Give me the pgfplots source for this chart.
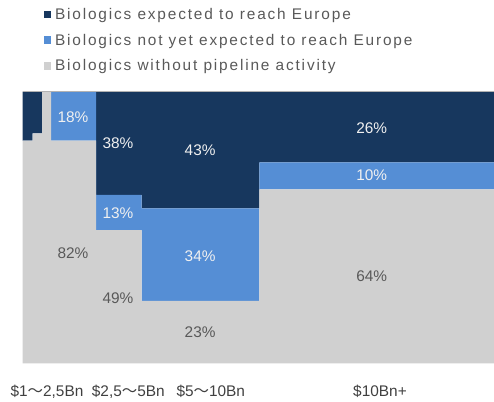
\documentclass[border=0pt]{standalone}
\usepackage{pgfplots}
\pgfplotsset{compat=1.18}
\usepackage{fontspec}
\setmainfont{Liberation Sans}
\newfontfamily\legfont{Liberation Sans}[LetterSpace=12]
\newfontfamily\cjk{Noto Sans CJK KR}
\definecolor{navy}{HTML}{17375E}
\definecolor{midblue}{HTML}{558ED5}
\definecolor{lgray}{HTML}{D0D0D0}
\definecolor{txtgray}{HTML}{595959}
\definecolor{tickgray}{HTML}{404040}
\definecolor{lbl}{HTML}{F0F0F0}
\newcommand{\wt}{{\cjk ～}}
\tikzset{
  lblw/.style={text=lbl, inner sep=0pt, text height=10.7pt, text depth=0pt, anchor=center},
  lblg/.style={text=txtgray, inner sep=0pt, text height=10.7pt, text depth=0pt, anchor=center},
}
\begin{document}
\begin{tikzpicture}[font=\fontsize{15.4}{18}\selectfont]
\useasboundingbox (0,0) rectangle (494pt,401pt);
\begin{axis}[
  at={(22.7pt,37.7pt)}, anchor=south west,
  scale only axis, width=471.3pt, height=271.6pt,
  xmin=0, xmax=471.3, ymin=0, ymax=100,
  axis line style={draw=none}, major tick length=0pt,
  ytick=\empty,
  xtick={24.3,105.6,188.1,357.3},
  xticklabels={{\$1\wt2,5Bn},{\$2,5\wt5Bn},{\$5\wt10Bn},{\$10Bn+}},
  xticklabel style={anchor=base, yshift=-33pt, inner sep=0pt, text=tickgray},
  stack plots=y,
  clip=false,
  reverse legend,
  legend cell align=left,
  legend style={at={(0.0452,1.3071)}, anchor=north west, draw=none, fill=none,
    inner sep=0pt, outer sep=0pt, row sep=11.8pt, text=txtgray,
    font=\legfont\fontsize{15.4}{18}\selectfont,
    nodes={inner sep=0pt, text height=11pt, text depth=3pt},
    /tikz/every odd column/.append style={column sep=3.7pt}},
  legend image code/.code={\draw[#1, draw=none] (0pt,-2.7pt) rectangle (7.3pt,4.7pt);},
]
% x: position along the width (px from left edge of plot), y: share in %
\addplot[fill=lgray, draw=none, const plot] coordinates {
  (0,82) (10,84.7) (19.3,100) (28.3,82) (73.3,49) (119,23) (236.6,64) (471.3,64)} \closedcycle;
\addplot[fill=midblue, draw=none, const plot] coordinates {
  (0,0) (10,0) (19.3,0) (28.3,18) (73.3,13) (119,34) (236.6,10) (471.3,10)} \closedcycle;
\addplot[fill=navy, draw=none, const plot] coordinates {
  (0,18) (10,15.3) (19.3,0) (28.3,0) (73.3,38) (119,43) (236.6,26) (471.3,26)} \closedcycle;
\legend{Biologics without pipeline activity, Biologics not yet expected to reach Europe, Biologics expected to reach Europe}
\coordinate (tl) at (axis cs:0,100);
\coordinate (tr) at (axis cs:471.3,100);
\coordinate (l1) at (axis cs:50.3,90.7);
\coordinate (l2) at (axis cs:50.3,40.6);
\coordinate (l3) at (axis cs:95.3,81.1);
\coordinate (l4) at (axis cs:95.3,55.3);
\coordinate (l5) at (axis cs:95.3,24.0);
\coordinate (l6) at (axis cs:177.4,78.3);
\coordinate (l7) at (axis cs:177.4,39.5);
\coordinate (l8) at (axis cs:177.4,11.4);
\coordinate (l9) at (axis cs:349,86.7);
\coordinate (l10) at (axis cs:349,69.1);
\coordinate (l11) at (axis cs:349,32.1);
\end{axis}
\draw[color=black!30, line width=0.6pt] (tl) -- (tr);
\node[lblw] at (l1) {18\%};
\node[lblg] at (l2) {82\%};
\node[lblw] at (l3) {38\%};
\node[lblw] at (l4) {13\%};
\node[lblg] at (l5) {49\%};
\node[lblw] at (l6) {43\%};
\node[lblw] at (l7) {34\%};
\node[lblg] at (l8) {23\%};
\node[lblw] at (l9) {26\%};
\node[lblw] at (l10) {10\%};
\node[lblg] at (l11) {64\%};
\end{tikzpicture}
\end{document}
